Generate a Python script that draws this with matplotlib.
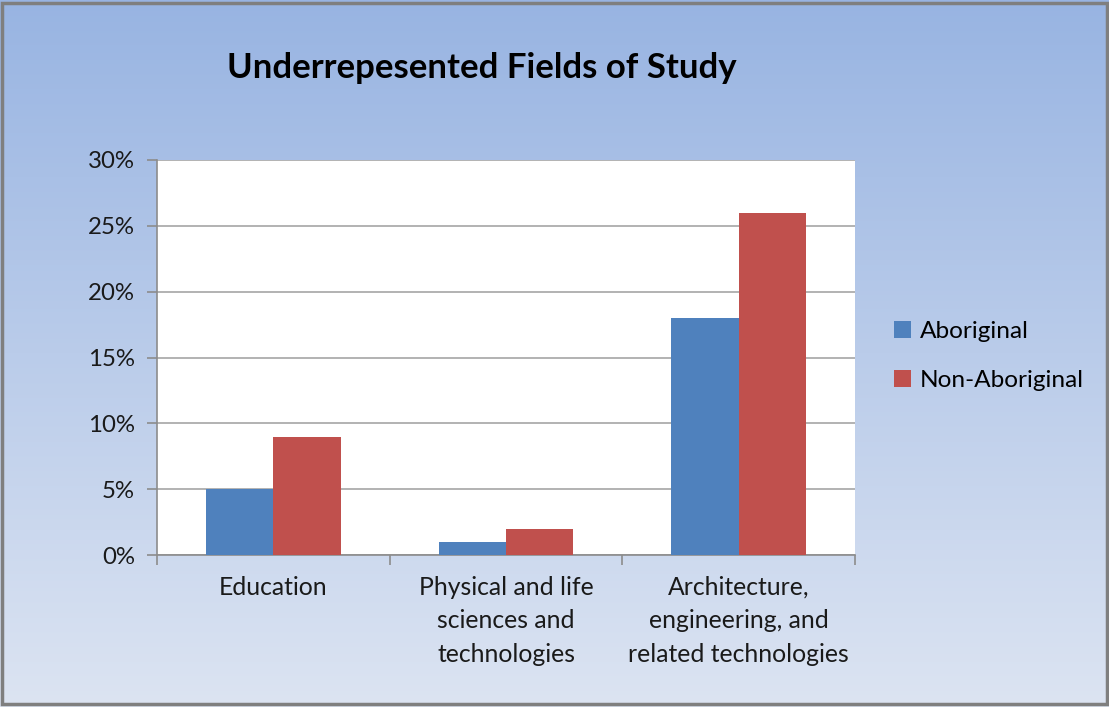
import numpy as np
import matplotlib
matplotlib.use("Agg")
import matplotlib.pyplot as plt
from matplotlib.patches import Patch, Rectangle
from matplotlib.colors import LinearSegmentedColormap
from matplotlib.ticker import FuncFormatter, FixedLocator, NullFormatter

categories = ["Education", "Physical and life\nsciences and\ntechnologies",
              "Architecture,\nengineering, and\nrelated technologies"]
series_names = ["Aboriginal", "Non-Aboriginal"]
aboriginal = [5, 1, 18]
non_aboriginal = [9, 2, 26]
yticks = [0, 5, 10, 15, 20, 25, 30]
title = "Underrepesented Fields of Study"

colors = ["#4f81bd", "#c0504d"]
font = "Lato"

W, H = 1109, 707
fig = plt.figure(figsize=(W / 100, H / 100), dpi=100)

# gradient background
bg = fig.add_axes([0, 0, 1, 1], zorder=-10)
cmap = LinearSegmentedColormap.from_list("bg", ["#98b4e2", "#dce4f2"])
grad = np.linspace(0, 1, 256).reshape(-1, 1)
bg.imshow(grad, aspect="auto", cmap=cmap, extent=[0, 1, 1, 0])
bg.set_xlim(0, 1); bg.set_ylim(1, 0)
bg.axis("off")
bg.add_patch(Rectangle((0.002, 0.004), 0.996, 0.992, fill=False,
                       edgecolor="#7f7f7f", linewidth=2.5, transform=bg.transAxes))

left, right, top, bottom = 157, 855, 160, 555
ax = fig.add_axes([left / W, 1 - bottom / H, (right - left) / W, (bottom - top) / H])
ax.set_facecolor("white")

x = np.arange(len(categories))
bw = 0.29
ax.bar(x - bw / 2, aboriginal, bw, color=colors[0], zorder=3)
ax.bar(x + bw / 2, non_aboriginal, bw, color=colors[1], zorder=3)

ax.set_xlim(-0.5, len(categories) - 0.5)
ax.set_ylim(0, 30)
ax.set_yticks(yticks)
ax.yaxis.set_major_formatter(FuncFormatter(lambda v, p: f"{int(v)}%"))
ax.grid(axis="y", color="#a6a6a6", linewidth=1.2, zorder=1)

ax.xaxis.set_major_locator(FixedLocator([-0.5, 0.5, 1.5, 2.5]))
ax.xaxis.set_major_formatter(NullFormatter())
ax.xaxis.set_minor_locator(FixedLocator(list(x)))
ax.set_xticklabels(categories, minor=True)
ax.tick_params(axis="x", which="minor", length=0, pad=15, labelsize=17.8, labelcolor="#1a1a1a")
ax.tick_params(axis="x", which="major", length=7, color="#8c8c8c", width=1.2)
ax.tick_params(axis="y", length=7, color="#8c8c8c", width=1.2, labelsize=17.3, labelcolor="#1a1a1a", pad=9)
for lbl in ax.get_xticklabels(minor=True):
    lbl.set_fontfamily(font)
    lbl.set_linespacing(1.55)
for lbl in ax.get_yticklabels():
    lbl.set_fontfamily(font)

for s in ["top", "right"]:
    ax.spines[s].set_visible(False)
for s in ["left", "bottom"]:
    ax.spines[s].set_color("#8c8c8c")
    ax.spines[s].set_linewidth(1.2)

fig.text(482 / W, 1 - 68 / H, title, ha="center", va="center",
         fontsize=25, fontweight="bold", fontfamily=font, color="black")

handles = [Patch(facecolor=c) for c in colors]
fig.legend(handles, series_names, loc="center left", bbox_to_anchor=(872 / W, 1 - 356 / H),
           frameon=False, prop={"family": font, "size": 17.6}, handlelength=0.7,
           handleheight=0.7, handletextpad=0.35, labelspacing=1.15)

fig.savefig("out.png", dpi=100)
